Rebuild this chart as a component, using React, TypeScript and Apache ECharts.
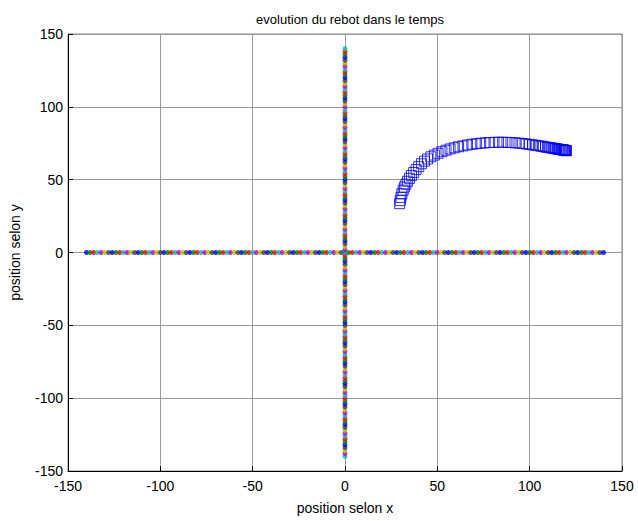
import React, { useEffect, useRef } from "react";
import * as echarts from "echarts";

const titleText = "evolution du rebot dans le temps";
const xAxisName = "position selon x";
const yAxisName = "position selon y";

// positions of the dots along both axes (x for the horizontal line, y for the vertical one)
const axisPositions = [
  -140, -138, -136, -134, -132, -130, -128, -126, -124, -122, -120, -118, -116, -114, -112, -110,
  -108, -106, -104, -102, -100, -98, -96, -94, -92, -90, -88, -86, -84, -82, -80, -78, -76, -74,
  -72, -70, -68, -66, -64, -62, -60, -58, -56, -54, -52, -50, -48, -46, -44, -42, -40, -38, -36,
  -34, -32, -30, -28, -26, -24, -22, -20, -18, -16, -14, -12, -10, -8, -6, -4, -2, 0, 2, 4, 6, 8,
  10, 12, 14, 16, 18, 20, 22, 24, 26, 28, 30, 32, 34, 36, 38, 40, 42, 44, 46, 48, 50, 52, 54, 56,
  58, 60, 62, 64, 66, 68, 70, 72, 74, 76, 78, 80, 82, 84, 86, 88, 90, 92, 94, 96, 98, 100, 102,
  104, 106, 108, 110, 112, 114, 116, 118, 120, 122, 124, 126, 128, 130, 132, 134, 136, 138, 140,
];

const trajX = [
  29.6, 29.9, 30.3, 30.8, 31.5, 32.2, 33, 33.9, 34.9, 36, 37.2, 38.5, 39.9, 41.4, 43, 44.7, 46.5,
  48.4, 50.4, 52.5, 54.7, 56.9, 59.2, 61.5, 63.9, 66.3, 68.7, 71.1, 73.5, 75.9, 78.3, 80.7, 83.1,
  85.4, 87.7, 89.9, 92.1, 94.2, 96.2, 98.1, 99.9, 101.6, 103.2, 104.7, 106.1, 107.4, 108.6, 109.7,
  110.7, 111.7, 112.6, 113.4, 114.2, 114.9, 115.6, 116.2, 116.8, 117.3, 117.8, 118.2, 118.6, 118.9,
  119.2, 119.5, 119.7, 119.9,
];
const trajY = [
  33.5, 35.6, 37.8, 40.3, 42.8, 44.9, 46.9, 48.9, 50.9, 52.9, 54.9, 56.9, 58.9, 60.9, 62.7, 64.2,
  65.7, 66.9, 68.1, 69.2, 70.2, 71.1, 71.9, 72.6, 73.2, 73.8, 74.3, 74.7, 75, 75.3, 75.5, 75.6,
  75.7, 75.7, 75.6, 75.5, 75.3, 75.1, 74.8, 74.5, 74.2, 73.9, 73.6, 73.3, 73, 72.7, 72.4, 72.2,
  72, 71.8, 71.6, 71.4, 71.2, 71.1, 70.9, 70.8, 70.7, 70.6, 70.5, 70.4, 70.3, 70.2, 70.1, 70,
  69.95, 69.9,
];

const cycleColors = ["#0000ff", "#008000", "#ff0000", "#00bfbf", "#bf00bf", "#bfbf00", "#404040"];

export default function App() {
  const ref = useRef<HTMLDivElement>(null);
  useEffect(() => {
    if (!ref.current) return;
    const chart = echarts.init(ref.current, null, { renderer: "svg" });
    const font = "Liberation Sans, Arial, sans-serif";
    const axisCommon = {
      min: -150,
      max: 150,
      interval: 50,
      nameLocation: "middle",
      nameTextStyle: { fontFamily: font, fontSize: 14, color: "#000" },
      axisLine: { show: true, onZero: false, lineStyle: { color: "#000", width: 1 } },
      axisTick: { show: true, inside: true, length: 5, lineStyle: { color: "#000" } },
      axisLabel: { fontFamily: font, fontSize: 14, color: "#000" },
      splitLine: { show: true, lineStyle: { color: "#9a9a9a", width: 1 } },
    };
    chart.setOption({
      animation: false,
      backgroundColor: "#fff",
      title: {
        text: titleText,
        left: 345,
        textAlign: "center",
        top: 8,
        textStyle: { fontFamily: font, fontSize: 13, fontWeight: "normal", color: "#000" },
      },
      grid: {
        left: 68,
        top: 34,
        width: 554,
        height: 437,
        show: true,
        borderColor: "#8a8a8a",
        borderWidth: 1,
        backgroundColor: "#fff",
      },
      xAxis: {
        type: "value",
        ...axisCommon,
        name: xAxisName,
        nameGap: 30,
        axisLabel: { ...axisCommon.axisLabel, margin: 8 },
      },
      yAxis: {
        type: "value",
        ...axisCommon,
        name: yAxisName,
        nameGap: 46,
        axisLabel: { ...axisCommon.axisLabel, margin: 5 },
      },
      series: [
        {
          type: "scatter",
          symbol: "circle",
          symbolSize: 5,
          data: axisPositions.map((x) => [x, 0]),
          itemStyle: { color: (p: any) => cycleColors[p.dataIndex % cycleColors.length] },
        },
        {
          type: "scatter",
          symbol: "circle",
          symbolSize: 5,
          data: axisPositions.map((y) => [0, y]),
          itemStyle: { color: (p: any) => cycleColors[(p.dataIndex + 3) % cycleColors.length] },
        },
        {
          type: "scatter",
          symbol: "rect",
          symbolSize: 10,
          data: trajX.map((x, i) => [x, trajY[i]]),
          itemStyle: { color: "rgba(0,0,0,0)", borderColor: "#0000ff", borderWidth: 1 },
        },
      ],
    });
    return () => chart.dispose();
  }, []);
  return <div ref={ref} style={{ width: 638, height: 521, position: "absolute", left: 0, top: 0 }} />;
}
